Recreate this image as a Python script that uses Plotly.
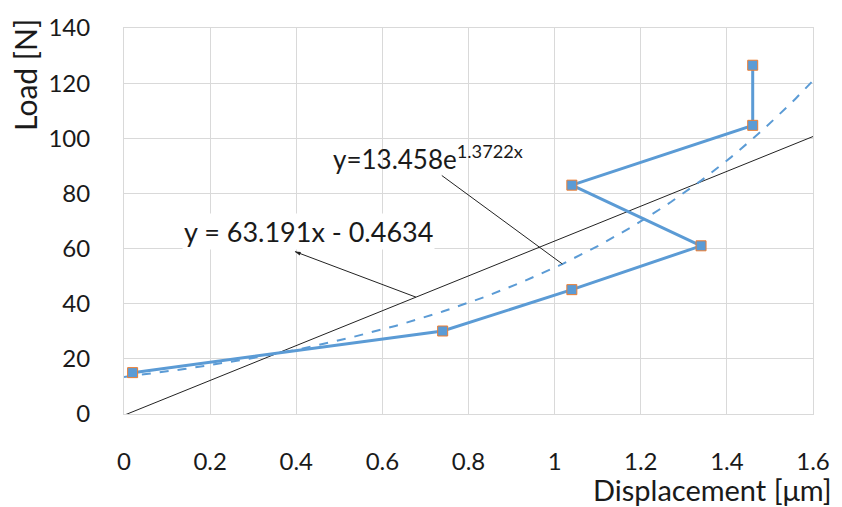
import numpy as np
import plotly.graph_objects as go

# Measured data (Displacement [µm], Load [N])
displacement = [0.02, 0.74, 1.04, 1.34, 1.04, 1.46, 1.46]
load = [15.0, 30.1, 45.1, 61.0, 83.0, 104.7, 126.5]

# Trendline equations shown on the chart
lin_slope, lin_intercept = 63.191, -0.4634
exp_a, exp_b = 13.458, 1.3722
trend_x = np.linspace(0, 1.6, 161)

x_ticks = [0, 0.2, 0.4, 0.6, 0.8, 1, 1.2, 1.4, 1.6]
y_ticks = [0, 20, 40, 60, 80, 100, 120, 140]

# leader-line anchor points (label end x/y, trendline x)
lin_leader = (0.397, 58.9, 0.678)
exp_leader = (0.738, 86.5, 1.018)

FONT = "Lato"
BLUE = "#5B9BD5"
ORANGE = "#ED7D31"
GRID = "#D9D9D9"
TXT = "#1a1a1a"
LEAD = "#222222"

fig = go.Figure()
fig.add_trace(go.Scatter(x=trend_x, y=lin_slope * trend_x + lin_intercept, mode="lines",
                         line=dict(color=LEAD, width=1), hoverinfo="skip"))
fig.add_trace(go.Scatter(x=trend_x, y=exp_a * np.exp(exp_b * trend_x), mode="lines",
                         line=dict(color=BLUE, width=2, dash="dash"), hoverinfo="skip"))

# leader lines
lx0, ly0, lx1 = lin_leader
fig.add_trace(go.Scatter(x=[lx0, lx1], y=[ly0, lin_slope * lx1 + lin_intercept], mode="lines",
                         line=dict(color=LEAD, width=1), hoverinfo="skip"))
fig.add_trace(go.Scatter(x=[lx0], y=[ly0], mode="markers",
                         marker=dict(symbol="arrow", size=6, angle=-69, color=LEAD),
                         hoverinfo="skip"))
ex0, ey0, ex1 = exp_leader
fig.add_trace(go.Scatter(x=[ex0, ex1], y=[ey0, exp_a * np.exp(exp_b * ex1)], mode="lines",
                         line=dict(color=LEAD, width=1), hoverinfo="skip"))

fig.add_trace(go.Scatter(x=displacement, y=load, mode="lines+markers",
                         line=dict(color=BLUE, width=3),
                         marker=dict(symbol="square", size=10, color=BLUE,
                                     line=dict(color=ORANGE, width=1))))

fig.add_annotation(x=0.429, y=66.3, xref="x", yref="y", showarrow=False,
                   text="y = 63.191x - 0.4634", bgcolor="white",
                   font=dict(family=FONT, size=27, color=TXT))
fig.add_annotation(x=0.705, y=93, xref="x", yref="y", showarrow=False,
                   text="y=13.458e<sup>1.3722x</sup>",
                   font=dict(family=FONT, size=26, color=TXT))

# axis titles
fig.add_annotation(x=1.030, y=-0.195, xref="paper", yref="paper", showarrow=False,
                   xanchor="right", yanchor="middle", text="Displacement [μm]",
                   font=dict(family=FONT, size=29, color=TXT))
fig.add_annotation(x=-0.143, y=1.03, xref="paper", yref="paper", showarrow=False,
                   xanchor="center", yanchor="top", textangle=-90, text="Load [N]",
                   font=dict(family=FONT, size=30, color=TXT))

fig.update_layout(
    width=842, height=507,
    margin=dict(l=124, r=25, t=25, b=93),
    paper_bgcolor="white", plot_bgcolor="white",
    showlegend=False,
    font=dict(family=FONT, size=24, color=TXT),
)
fig.update_xaxes(range=[0, 1.6], tickvals=x_ticks, ticktext=[f"{v:g}" for v in x_ticks],
                 showgrid=True, gridcolor=GRID, gridwidth=1, zeroline=False,
                 showline=True, linecolor=GRID, mirror=True, ticks="",
                 ticklabelstandoff=26, tickfont=dict(family=FONT, size=24, color=TXT))
fig.update_yaxes(range=[0, 140], tickvals=y_ticks, ticktext=[str(v) for v in y_ticks],
                 showgrid=True, gridcolor=GRID, gridwidth=1, zeroline=False,
                 showline=True, linecolor=GRID, mirror=True, ticks="",
                 ticklabelstandoff=28, tickfont=dict(family=FONT, size=24, color=TXT))

fig.write_html("out.html")
